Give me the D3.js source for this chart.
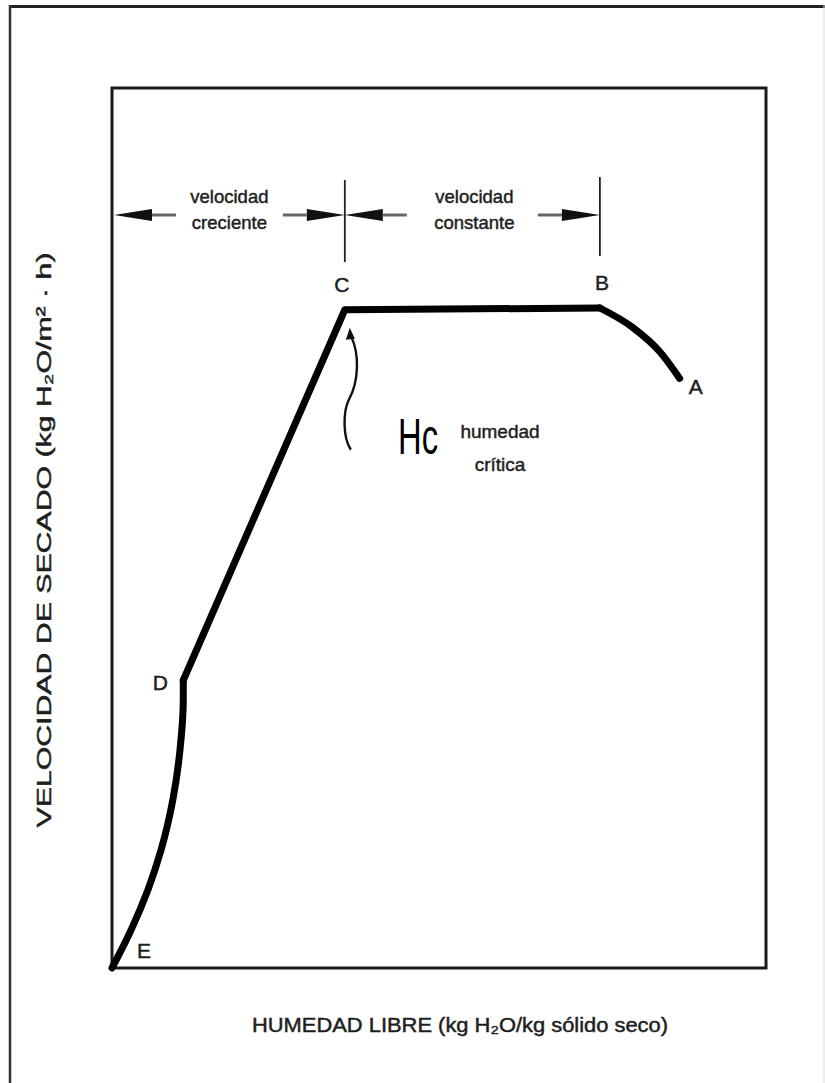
<!DOCTYPE html>
<html>
<head>
<meta charset="utf-8">
<script src="https://cdn.jsdelivr.net/npm/d3@7"></script>
<style>
  html, body { margin: 0; padding: 0; background: #fff; }
  svg text { font-family: "Liberation Sans", Arial, sans-serif; fill: #1e1e1e; stroke: #1e1e1e; stroke-width: 0.45px; }
</style>
</head>
<body>
<div id="chart"></div>
<script>
  // curve E -> D -> C -> B -> A, free moisture (x) vs drying rate (y), relative units
  const curveX = [0, 0.029, 0.055, 0.075, 0.093, 0.104, 0.109, 0.109, 0.356, 0.746, 0.796, 0.838, 0.868];
  const curveY = [0, 0.043, 0.089, 0.134, 0.191, 0.248, 0.305, 0.327, 0.748, 0.750, 0.728, 0.700, 0.670];
  const pointNames = ["E", "D", "C", "B", "A"];
  const pointIndex = [0, 7, 8, 9, 12];
  const zoneLabels = [["velocidad", "creciente"], ["velocidad", "constante"]];
  const xTitle = "HUMEDAD LIBRE (kg H₂O/kg sólido seco)";
  const yTitle = "VELOCIDAD DE SECADO (kg H₂O/m² · h)";

  const width = 825;
  const height = 1083;
  const box = { left: 112, right: 766, top: 88, bottom: 968 };

  const svg = d3.select("#chart")
    .append("svg")
    .attr("width", width)
    .attr("height", height);

  // outer frame of the scanned figure
  svg.append("line").attr("x1", 10).attr("x2", 825).attr("y1", 6.5).attr("y2", 6.5)
    .attr("stroke", "#222").attr("stroke-width", 3);
  svg.append("line").attr("x1", 10).attr("x2", 10).attr("y1", 5).attr("y2", 1083)
    .attr("stroke", "#333").attr("stroke-width", 2.5);
  svg.append("line").attr("x1", 824).attr("x2", 824).attr("y1", 5).attr("y2", 1083)
    .attr("stroke", "#ddd").attr("stroke-width", 1);

  const xScale = d3.scaleLinear().domain([0, 1]).range([box.left, box.right]);
  const yScale = d3.scaleLinear().domain([0, 1]).range([box.bottom, box.top]);

  // plot box
  svg.append("rect")
    .attr("x", box.left).attr("y", box.top)
    .attr("width", box.right - box.left).attr("height", box.bottom - box.top)
    .attr("fill", "none").attr("stroke", "#1a1a1a").attr("stroke-width", 3);

  const pts = curveX.map((x, i) => ({ x: x, y: curveY[i] }));
  const iD = pointIndex[1], iC = pointIndex[2], iB = pointIndex[3];

  const line = d3.line().x(d => xScale(d.x)).y(d => yScale(d.y));
  const smoothY = d3.line().x(d => xScale(d.x)).y(d => yScale(d.y)).curve(d3.curveMonotoneY);
  const smoothX = d3.line().x(d => xScale(d.x)).y(d => yScale(d.y)).curve(d3.curveMonotoneX);

  const curveG = svg.append("g")
    .attr("fill", "none").attr("stroke", "#000").attr("stroke-width", 7)
    .attr("stroke-linecap", "round").attr("stroke-linejoin", "round");
  curveG.append("path").attr("d", smoothY(pts.slice(0, iD + 1)));
  curveG.append("path").attr("d", line(pts.slice(iD, iB + 1)));
  curveG.append("path").attr("d", smoothX(pts.slice(iB)));

  // point letters
  const letterOffset = { E: [32, -10], D: [-23, 10], C: [-3, -18], B: [2, -18], A: [16, 16] };
  pointNames.forEach((name, k) => {
    const p = pts[pointIndex[k]];
    svg.append("text")
      .attr("x", xScale(p.x) + letterOffset[name][0])
      .attr("y", yScale(p.y) + letterOffset[name][1])
      .attr("text-anchor", "middle")
      .attr("font-size", 21)
      .text(name);
  });

  // zone markers above the curve
  const arrowY = 215;
  const xLeft = xScale(0), xC = xScale(pts[iC].x), xB = xScale(pts[iB].x);
  svg.append("line").attr("x1", xC).attr("x2", xC).attr("y1", 180).attr("y2", 262)
    .attr("stroke", "#222").attr("stroke-width", 1.8);
  svg.append("line").attr("x1", xB).attr("x2", xB).attr("y1", 177).attr("y2", 256)
    .attr("stroke", "#222").attr("stroke-width", 1.8);

  function arrow(tipX, dir) {
    // dir = -1 points left, 1 points right
    const head = 38, shaft = 24;
    const baseX = tipX - dir * head;
    svg.append("path")
      .attr("d", `M${tipX},${arrowY} L${baseX},${arrowY - 6} L${baseX},${arrowY + 6} Z`)
      .attr("fill", "#111");
    svg.append("line")
      .attr("x1", baseX).attr("x2", baseX - dir * shaft)
      .attr("y1", arrowY).attr("y2", arrowY)
      .attr("stroke", "#666").attr("stroke-width", 3);
  }
  arrow(xLeft + 2, -1);
  arrow(xC, 1);
  arrow(xC, -1);
  arrow(xB, 1);

  const zoneCenters = [(xLeft + xC) / 2 + 1, (xC + xB) / 2 + 2];
  zoneLabels.forEach((lines, k) => {
    lines.forEach((t, j) => {
      svg.append("text")
        .attr("x", zoneCenters[k])
        .attr("y", 203 + j * 26)
        .attr("text-anchor", "middle")
        .attr("font-size", 18.5)
        .text(t);
    });
  });

  // critical moisture brace
  const bx = xC + 6, by = yScale(pts[iC].y);
  svg.append("path")
    .attr("d", `M${bx},${by + 26} C${bx + 9},${by + 44} ${bx + 8},${by + 72} ${bx - 2},${by + 90} C${bx - 8},${by + 102} ${bx - 8},${by + 128} ${bx},${by + 140}`)
    .attr("fill", "none").attr("stroke", "#111").attr("stroke-width", 2.4);
  svg.append("path")
    .attr("d", `M${bx - 1},${by + 18} L${bx - 5},${by + 30} L${bx + 4},${by + 29} Z`)
    .attr("fill", "#111");

  svg.append("text")
    .attr("x", 398).attr("y", 454)
    .attr("font-size", 50)
    .attr("textLength", 40).attr("lengthAdjust", "spacingAndGlyphs")
    .style("fill", "#000").style("stroke", "none")
    .text("Hc");
  svg.append("text").attr("x", 500).attr("y", 438).attr("text-anchor", "middle")
    .attr("font-size", 19).text("humedad");
  svg.append("text").attr("x", 500).attr("y", 471).attr("text-anchor", "middle")
    .attr("font-size", 19).text("crítica");

  // axis titles
  svg.append("text")
    .attr("x", 460).attr("y", 1032)
    .attr("text-anchor", "middle")
    .attr("font-size", 20)
    .attr("textLength", 416).attr("lengthAdjust", "spacingAndGlyphs")
    .text(xTitle);
  svg.append("text")
    .attr("transform", "translate(51,540) rotate(-90)")
    .attr("text-anchor", "middle")
    .attr("font-size", 20)
    .attr("textLength", 575).attr("lengthAdjust", "spacingAndGlyphs")
    .text(yTitle);
</script>
</body>
</html>
